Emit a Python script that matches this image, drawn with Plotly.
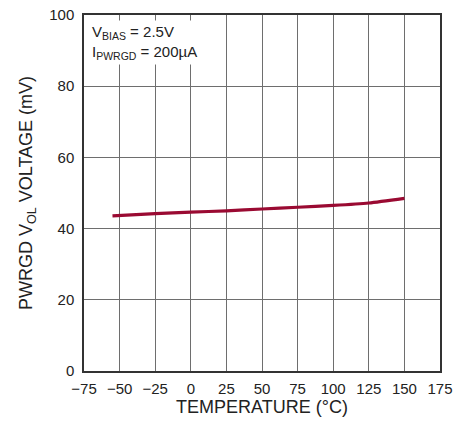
import plotly.graph_objects as go

# Temperature (°C) vs PWRGD VOL (mV)
temperature = [-55, -25, 0, 25, 50, 75, 100, 125, 150]
vol_mv = [43.6, 44.2, 44.6, 45.0, 45.5, 46.0, 46.5, 47.2, 48.5]

x_ticks = [-75, -50, -25, 0, 25, 50, 75, 100, 125, 150, 175]
y_ticks = [0, 20, 40, 60, 80, 100]

FONT = "Liberation Sans, Arial, sans-serif"

fig = go.Figure()
fig.add_trace(go.Scatter(
    x=temperature, y=vol_mv, mode="lines",
    line=dict(color="#9a0a32", width=3.2, shape="spline", smoothing=0.6),
    showlegend=False, hoverinfo="skip",
))

fig.add_annotation(
    xref="paper", yref="paper", x=0.0, y=1.0, xanchor="left", yanchor="top",
    text="V<sub>BIAS</sub> = 2.5V<br>I<sub>PWRGD</sub> = 200µA",
    showarrow=False, align="left", bgcolor="white", borderpad=2, xshift=5, yshift=-5,
    font=dict(family=FONT, size=15, color="#222"),
)

fig.update_xaxes(
    range=[-75, 175], tickvals=x_ticks, ticks="", showgrid=True,
    gridcolor="#6e6e6e", gridwidth=1, showline=True, linecolor="#333",
    linewidth=1.5, mirror=True, zeroline=False, automargin=False,
    ticklabelstandoff=3, ticklabeloverflow="allow",
    title=dict(text="TEMPERATURE (°C)", standoff=4),
    tickfont=dict(size=15),
)
fig.update_yaxes(
    range=[0, 100], tickvals=y_ticks, ticks="", showgrid=True,
    gridcolor="#6e6e6e", gridwidth=1, showline=True, linecolor="#333",
    linewidth=1.5, mirror=True, zeroline=False, automargin=False,
    ticklabelstandoff=5, ticklabeloverflow="allow",
    title=dict(text="PWRGD V<sub>OL</sub> VOLTAGE (mV)", standoff=12),
    tickfont=dict(size=15),
)
# the page puts the figure 8 px in from the top-left corner
fig.update_layout(
    width=469, height=425,
    margin=dict(l=76, r=37, t=7, b=62),
    plot_bgcolor="white", paper_bgcolor="white",
    font=dict(family=FONT, size=15, color="#222"),
)

fig.write_html("out.html")
